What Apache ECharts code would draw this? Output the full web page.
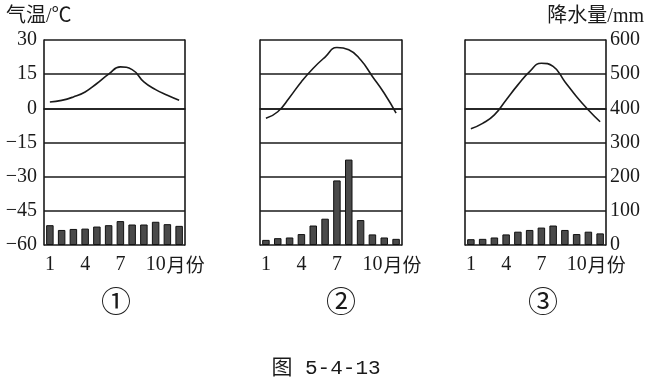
<!DOCTYPE html>
<html>
<head>
<meta charset="utf-8">
<script src="https://cdn.jsdelivr.net/npm/echarts@6/dist/echarts.min.js"></script>
<style>html,body{margin:0;padding:0;background:#fff;}#c{width:651px;height:383px;}</style>
</head>
<body>
<div id="c"></div>
<script>
var months = ['1','2','3','4','5','6','7','8','9','10','11','12'];
var temp1 = [2.8, 3.5, 5.0, 7.2, 10.9, 15.0, 18.2, 17.0, 11.6, 8.2, 5.7, 3.5];
var precip1 = [58, 44, 47, 48, 54, 58, 70, 60, 60, 68, 61, 56];
var temp2 = [-4.4, -1.5, 4.8, 11.7, 17.6, 22.5, 26.7, 25.7, 21.3, 14.0, 6.6, -2.1];
var precip2 = [15, 20, 22, 32, 57, 77, 189, 250, 73, 31, 22, 18];
var temp3 = [-9.0, -6.6, -2.9, 3.7, 10.3, 16.1, 19.8, 18.4, 11.7, 5.1, -0.7, -5.9];
var precip3 = [17, 18, 22, 31, 39, 44, 51, 57, 44, 32, 39, 34];
var tempMin = -60, tempMax = 30, tempStep = 15;
var precMin = 0, precMax = 600, precStep = 100;
var panelNames = ['①', '②', '③'];
var tempTitle = '气温/℃';
var precTitle = '降水量/mm';
var figCaption = '图 5-4-13';

var serif = "'Liberation Serif', 'Noto Sans CJK SC', serif";
var ink = '#1a1a1a';
var grids = [
  {left: 44, top: 40, width: 141, height: 205},
  {left: 260, top: 40, width: 142, height: 205},
  {left: 465, top: 40, width: 141, height: 205}
];
var temps = [temp1, temp2, temp3];
var precs = [precip1, precip2, precip3];

var xAxes = [], yAxes = [], series = [];
grids.forEach(function (g, i) {
  xAxes.push({
    type: 'category', gridIndex: i, data: months, boundaryGap: true,
    axisLine: {show: true, lineStyle: {color: ink, width: 1.6}},
    axisTick: {show: false},
    axisLabel: {
      interval: 0, margin: 10, color: ink, fontFamily: serif, fontSize: 20,
      formatter: function (v) {
        if (v === '10') return '{p|}{n|10}{c|月份}';
        if (v === '1' || v === '4' || v === '7') return '{n|' + v + '}';
        return '';
      },
      rich: {
        p: {width: 40},
        n: {fontFamily: serif, fontSize: 20, color: ink},
        c: {fontFamily: "'Noto Sans CJK SC', serif", fontSize: 19, color: ink, width: 40}
      }
    },
    splitLine: {show: false}
  });
  yAxes.push({
    type: 'value', gridIndex: i, position: 'left',
    min: tempMin, max: tempMax, interval: tempStep,
    axisLine: {show: true, lineStyle: {color: ink, width: 1.6}},
    axisTick: {show: false},
    axisLabel: {
      show: i === 0, margin: 7, color: ink, fontFamily: serif, fontSize: 20,
      formatter: function (v) { return String(v).replace('-', '\u2212'); }
    },
    splitLine: {show: true, lineStyle: {color: ink, width: 1.6}}
  });
  yAxes.push({
    type: 'value', gridIndex: i, position: 'right',
    min: precMin, max: precMax, interval: precStep,
    axisLine: {show: true, lineStyle: {color: ink, width: 1.6}},
    axisTick: {show: false},
    axisLabel: {show: i === 2, margin: 4, color: ink, fontFamily: serif, fontSize: 20},
    splitLine: {show: false}
  });
  series.push({
    type: 'bar', xAxisIndex: i, yAxisIndex: 2 * i + 1, data: precs[i],
    barWidth: 7.5,
    itemStyle: {color: '#4a4a4a', borderColor: '#111', borderWidth: 1},
    silent: true, animation: false
  });
  series.push({
    type: 'line', xAxisIndex: i, yAxisIndex: 2 * i, data: temps[i],
    smooth: 0.5, showSymbol: false, symbol: 'none',
    lineStyle: {color: ink, width: 1.6},
    silent: true, animation: false
  });
});

var centers = [116, 341, 543];
var graphics = [];
panelNames.forEach(function (n, i) {
  graphics.push({type: 'text', x: centers[i], y: 301, style: {text: n, align: 'center', verticalAlign: 'middle', fontFamily: "'Noto Sans CJK SC', serif", fontSize: 30, fill: ink}});
});
graphics.push({type: 'text', x: 6, y: 17, style: {text: tempTitle, align: 'left', verticalAlign: 'middle', fontFamily: serif, fontSize: 20, fill: ink}});
graphics.push({type: 'text', x: 644, y: 17, style: {text: precTitle, align: 'right', verticalAlign: 'middle', fontFamily: serif, fontSize: 20, fill: ink}});
graphics.push({type: 'text', x: 326, y: 368, style: {text: figCaption, align: 'center', verticalAlign: 'middle', fontFamily: "'Liberation Mono', 'Noto Sans CJK SC', monospace", fontSize: 21, fill: ink}});

var chart = echarts.init(document.getElementById('c'), null, {renderer: 'canvas'});
chart.setOption({
  backgroundColor: '#fff',
  animation: false,
  grid: grids,
  xAxis: xAxes,
  yAxis: yAxes,
  series: series,
  graphic: graphics
});
</script>
</body>
</html>
